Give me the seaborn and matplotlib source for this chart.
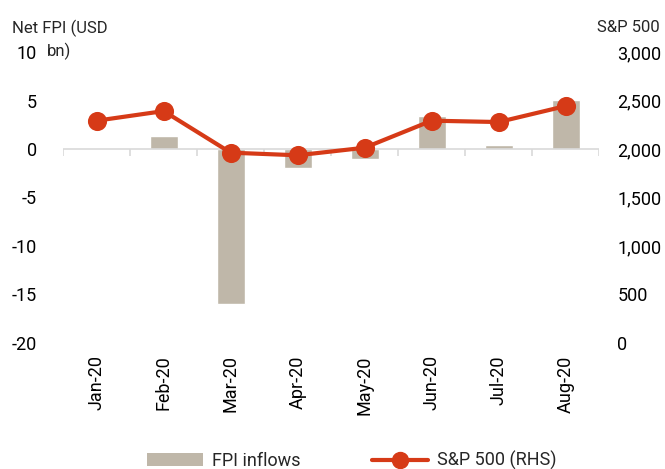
import matplotlib
matplotlib.use("Agg")
import matplotlib.pyplot as plt
import matplotlib.ticker as mticker
from matplotlib.patches import Patch
from matplotlib.lines import Line2D
import seaborn as sns

months = ["Jan-20", "Feb-20", "Mar-20", "Apr-20", "May-20", "Jun-20", "Jul-20", "Aug-20"]
fpi_inflows = [0.1, 1.3, -16.0, -2.0, -1.0, 3.4, 0.4, 5.1]   # USD bn
sp500 = [2292, 2391, 1962, 1935, 2013, 2292, 2278, 2443]

bar_col = "#BFB7A9"
line_col = "#D63A17"
grey = "#D9D9D9"

sns.set_style("white")
plt.rcParams['font.family'] = ['Roboto', 'DejaVu Sans']
plt.rcParams['axes.unicode_minus'] = False
fs = 13

fig = plt.figure(figsize=(6.65, 4.69), dpi=100)
ax = fig.add_axes([0.095, 0.269, 0.806, 0.62])

sns.barplot(x=months, y=fpi_inflows, ax=ax, color=bar_col, saturation=1, width=0.42)
ax.set_ylim(-20, 10)
ax.set_yticks(range(-20, 11, 5))
ax.set_xlim(-0.5, len(months) - 0.5)

# zero line + category separators
ax.axhline(0, color=grey, lw=1.2, zorder=1)
ax.vlines([i - 0.5 for i in range(len(months) + 1)], -0.75, 0, color=grey, lw=1.2)

ax2 = ax.twinx()
sns.pointplot(x=months, y=sp500, ax=ax2, color=line_col, markers="o",
              markersize=11.5, linewidth=3)
ax2.set_ylim(0, 3000)
ax2.set_yticks(range(0, 3001, 500))
ax2.yaxis.set_major_formatter(mticker.StrMethodFormatter("{x:,.0f}"))
ax2.set_xlim(-0.5, len(months) - 0.5)

for a in (ax, ax2):
    for s in a.spines.values():
        s.set_visible(False)
    a.set_xlabel("")
    a.set_ylabel("")
    a.tick_params(length=0, labelsize=fs, colors="black")

ax.tick_params(axis="y", pad=19)
ax2.tick_params(axis="y", pad=13)
ax.tick_params(axis="x", pad=9)
for lbl in ax.get_xticklabels():
    lbl.set_rotation(90)

fig.text(60 / 665, 1 - 28 / 469, "Net FPI (USD", ha="center", va="center", fontsize=12)
fig.text(59 / 665, 1 - 51 / 469, "bn)", ha="center", va="center", fontsize=12)
fig.text(660 / 665, 1 - 28 / 469, "S&P 500", ha="right", va="center", fontsize=12)

handles = [Patch(facecolor=bar_col, edgecolor="none"),
           Line2D([0], [0], color=line_col, lw=3, marker="o", markersize=11.5)]
fig.legend(handles, ["FPI inflows", "S&P 500 (RHS)"], loc="center",
           bbox_to_anchor=(0.529, 0.018), ncol=2, frameon=False, fontsize=fs,
           handlelength=3.1, columnspacing=4.0, handletextpad=0.5)

fig.savefig("out.png", dpi=100)
